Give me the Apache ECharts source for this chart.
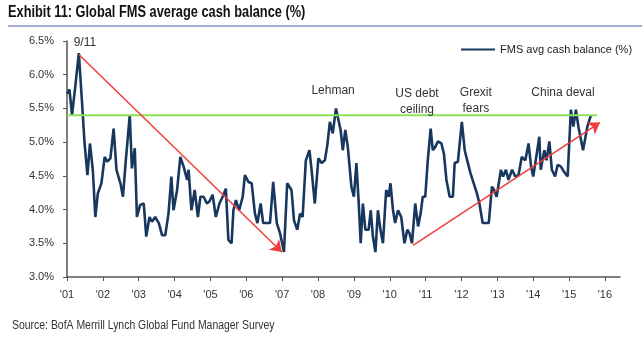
<!DOCTYPE html>
<html>
<head>
<meta charset="utf-8">
<script src="https://cdn.jsdelivr.net/npm/echarts@6/dist/echarts.min.js"></script>
<style>
  html, body { margin: 0; padding: 0; background: #fff; }
  #chart { width: 642px; height: 350px; }
</style>
</head>
<body>
<div id="chart"></div>
<script>
// survey dates as decimal years
const surveyYears = [
  2001.00, 2001.07, 2001.14, 2001.23, 2001.33, 2001.42, 2001.49, 2001.57, 2001.64, 2001.72,
  2001.79, 2001.86, 2001.96, 2002.05, 2002.12, 2002.21, 2002.30, 2002.38, 2002.49, 2002.56,
  2002.64, 2002.75, 2002.81, 2002.89, 2002.95, 2003.04, 2003.14, 2003.21, 2003.30, 2003.37,
  2003.46, 2003.56, 2003.65, 2003.74, 2003.83, 2003.91, 2003.97, 2004.07, 2004.16, 2004.25,
  2004.35, 2004.39, 2004.47, 2004.56, 2004.65, 2004.72, 2004.81, 2004.90, 2004.97, 2005.06,
  2005.15, 2005.25, 2005.34, 2005.43, 2005.50, 2005.59, 2005.64, 2005.71, 2005.80, 2005.90,
  2005.96, 2006.06, 2006.15, 2006.24, 2006.31, 2006.40, 2006.47, 2006.57, 2006.66, 2006.75,
  2006.85, 2006.94, 2007.05, 2007.14, 2007.26, 2007.33, 2007.42, 2007.50, 2007.57, 2007.66,
  2007.76, 2007.82, 2007.91, 2008.01, 2008.10, 2008.19, 2008.26, 2008.33, 2008.41, 2008.50,
  2008.56, 2008.63, 2008.69, 2008.76, 2008.83, 2008.93, 2009.00, 2009.07, 2009.13, 2009.19,
  2009.25, 2009.32, 2009.41, 2009.47, 2009.53, 2009.60, 2009.67, 2009.74, 2009.81, 2009.90,
  2009.97, 2010.02, 2010.09, 2010.15, 2010.23, 2010.32, 2010.41, 2010.49, 2010.55, 2010.62,
  2010.71, 2010.79, 2010.86, 2010.92, 2010.99, 2011.06, 2011.14, 2011.20, 2011.27, 2011.34,
  2011.44, 2011.51, 2011.58, 2011.67, 2011.76, 2011.81, 2011.90, 2012.01, 2012.09, 2012.16,
  2012.25, 2012.37, 2012.43, 2012.50, 2012.59, 2012.76, 2012.85, 2012.91, 2012.98, 2013.10,
  2013.16, 2013.24, 2013.31, 2013.41, 2013.50, 2013.59, 2013.68, 2013.78, 2013.87, 2013.94,
  2014.00, 2014.07, 2014.17, 2014.21, 2014.31, 2014.37, 2014.45, 2014.52, 2014.61, 2014.68,
  2014.77, 2014.86, 2014.96, 2015.05, 2015.12, 2015.19, 2015.26, 2015.39, 2015.51, 2015.61
];

// FMS average cash balance, %
const cashBalance = [
  5.72, 5.78, 5.40, 5.82, 6.32, 5.58, 4.98, 4.51, 4.98, 4.59,
  3.89, 4.24, 4.39, 4.78, 4.71, 4.76, 5.20, 4.59, 4.39, 4.19,
  4.73, 5.40, 4.61, 4.91, 3.89, 4.07, 4.09, 3.60, 3.89, 3.82,
  3.89, 3.80, 3.62, 3.62, 3.94, 4.49, 3.99, 4.29, 4.78, 4.64,
  4.44, 4.59, 3.99, 4.29, 3.89, 4.19, 4.19, 4.09, 4.12, 4.22,
  3.89, 4.09, 4.19, 4.31, 3.55, 3.50, 3.99, 4.14, 3.99, 4.19,
  4.51, 4.41, 4.39, 3.94, 3.80, 4.09, 3.80, 3.80, 3.80, 4.41,
  3.80, 3.65, 3.37, 4.39, 4.29, 3.84, 3.70, 3.94, 3.89, 4.73,
  4.88, 4.59, 4.09, 4.76, 4.69, 4.73, 4.96, 5.30, 5.13, 5.50,
  5.35, 5.18, 4.88, 5.18, 4.93, 4.34, 4.19, 4.69, 4.14, 3.50,
  4.09, 3.70, 3.70, 3.99, 3.60, 3.37, 3.99, 3.70, 3.50, 4.29,
  4.19, 4.39, 3.99, 3.80, 3.99, 3.89, 3.50, 3.70, 3.65, 3.50,
  4.09, 3.75, 3.94, 4.19, 4.19, 4.73, 5.20, 4.88, 4.93, 5.01,
  4.98, 4.83, 4.44, 4.19, 4.19, 4.69, 4.71, 5.30, 4.88, 4.73,
  4.54, 4.34, 4.24, 4.09, 3.80, 3.80, 4.34, 4.29, 4.19, 4.59,
  4.49, 4.59, 4.44, 4.59, 4.49, 4.51, 4.78, 4.73, 4.98, 4.64,
  4.49, 4.73, 5.08, 4.59, 4.88, 4.73, 5.01, 4.59, 4.49, 4.66,
  4.64, 4.56, 4.49, 5.48, 5.23, 5.48, 5.23, 4.88, 5.23, 5.40
];

const yearTicks = [2001, 2002, 2003, 2004, 2005, 2006, 2007, 2008,
  2009, 2010, 2011, 2012, 2013, 2014, 2015, 2016];

// horizontal reference level and trend arrows
const refLevel = 5.4;
const refSpan = [2001, 2015.78];
const trendArrows = [
  [[2001.33, 6.30], [2006.99, 3.37]],
  [[2010.65, 3.47], [2015.86, 5.29]]
];

// event labels: [text, year, value]
const events = [
  ['9/11', 2001.50, 6.48],
  ['Lehman', 2008.42, 5.77],
  ['US debt\nceiling', 2010.76, 5.60],
  ['Grexit\nfears', 2012.40, 5.61],
  ['China deval', 2014.83, 5.73]
];

const NAVY = '#17375e';
const AXIS_GREY = '#555555';
const TEXT = '#333333';
const FONT = '"Liberation Sans", Arial, sans-serif';

const chart = echarts.init(document.getElementById('chart'), null, { renderer: 'canvas' });

chart.setOption({
  animation: false,
  backgroundColor: '#ffffff',
  textStyle: { fontFamily: FONT },
  grid: { left: 67, right: 22, top: 41, bottom: 73 },
  legend: {
    data: ['FMS avg cash balance (%)'],
    left: 456,
    top: 39,
    icon: 'rect',
    itemWidth: 34,
    itemHeight: 2,
    textStyle: { fontSize: 11, color: '#222', fontFamily: FONT }
  },
  graphic: [
    {
      // the original uses a condensed face; squeeze a regular one
      type: 'text', x: 8, y: 5, scaleX: 0.8,
      style: {
        text: 'Exhibit 11: Global FMS average cash balance (%)',
        font: 'bold 16px ' + FONT, fill: '#111'
      }
    },
    {
      type: 'line',
      shape: { x1: 8, y1: 26, x2: 642, y2: 26 },
      style: { stroke: '#8497c0', lineWidth: 1.5 }
    },
    {
      type: 'text', x: 12, y: 320, scaleX: 0.87,
      style: {
        text: 'Source: BofA Merrill Lynch Global Fund Manager Survey',
        font: '12px ' + FONT, fill: '#333'
      }
    }
  ],
  xAxis: {
    type: 'value',
    min: 2001,
    max: 2016.42,
    interval: 1,
    splitLine: { show: false },
    axisLine: { lineStyle: { color: AXIS_GREY, width: 1.5 } },
    axisTick: { length: 4, lineStyle: { color: AXIS_GREY }, customValues: yearTicks },
    axisLabel: {
      customValues: yearTicks,
      color: TEXT, fontSize: 11, margin: 12,
      formatter: v => "'" + String(Math.round(v)).slice(2)
    }
  },
  yAxis: {
    type: 'value',
    min: 3,
    max: 6.5,
    interval: 0.5,
    splitLine: { show: false },
    axisLine: { show: true, lineStyle: { color: AXIS_GREY, width: 1.5 } },
    axisTick: { show: true, length: 4, lineStyle: { color: AXIS_GREY } },
    axisLabel: {
      color: TEXT, fontSize: 11, margin: 13,
      formatter: v => v.toFixed(1) + '%'
    }
  },
  series: [
    {
      name: 'FMS avg cash balance (%)',
      type: 'line',
      showSymbol: false,
      symbol: 'none',
      lineStyle: { color: NAVY, width: 2.6 },
      itemStyle: { color: NAVY },
      data: surveyYears.map((y, i) => [y, cashBalance[i]]),
      markPoint: {
        silent: true,
        symbol: 'circle',
        symbolSize: 0,
        label: {
          show: true, position: 'inside', formatter: '{b}',
          color: TEXT, fontSize: 12, lineHeight: 16, fontFamily: FONT
        },
        data: events.map(e => ({ name: e[0], coord: [e[1], e[2]] }))
      }
    },
    {
      name: 'level',
      type: 'line',
      symbol: 'none',
      silent: true,
      z: 3,
      lineStyle: { color: '#8ee05a', width: 2 },
      data: refSpan.map(x => [x, refLevel]),
      markLine: {
        silent: true,
        symbol: ['none', 'arrow'],
        symbolSize: 11,
        label: { show: false },
        lineStyle: { color: '#f23b3b', width: 1.5, type: 'solid' },
        data: trendArrows.map(a => [{ coord: a[0] }, { coord: a[1] }])
      }
    }
  ]
});
</script>
</body>
</html>
